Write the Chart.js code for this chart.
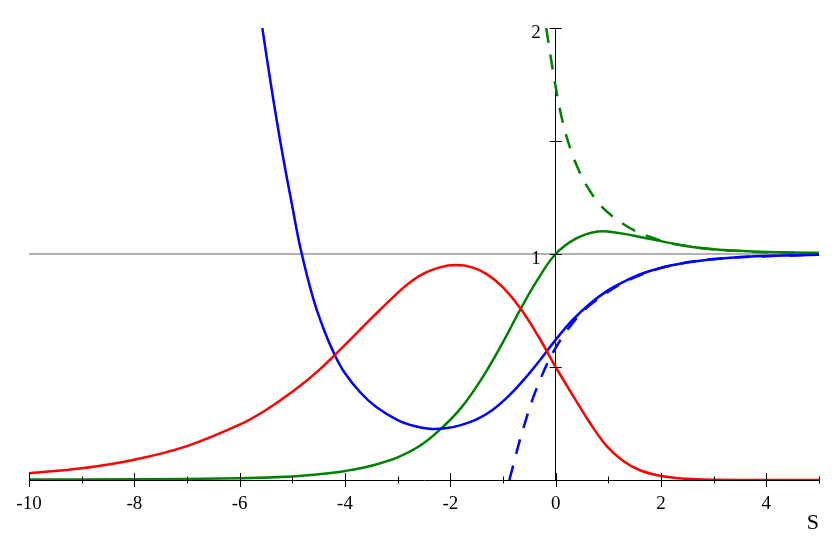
<!DOCTYPE html>
<html><head><meta charset="utf-8">
<script src="https://cdn.jsdelivr.net/npm/chart.js@4.4.0/dist/chart.umd.min.js"></script>
<style>html,body{margin:0;padding:0;background:#fff;} canvas{display:block;}</style>
</head><body>
<canvas id="c" width="834" height="556"></canvas>
<script>
// ---- data ----
const redS = [-10, -9, -8, -7, -6, -5.5, -5, -4.5, -4, -3.5, -3, -2.75, -2.5, -2.2, -1.9, -1.6, -1.3, -1.0, -0.67, -0.33, 0, 0.34, 0.655, 0.97, 1.29, 1.6, 2, 2.5, 3, 4, 5];
const redY = [0.03, 0.052, 0.09, 0.15, 0.245, 0.31, 0.39, 0.485, 0.598, 0.715, 0.828, 0.877, 0.914, 0.941, 0.951, 0.942, 0.91, 0.852, 0.76, 0.636, 0.5, 0.369, 0.251, 0.15, 0.083, 0.043, 0.018, 0.005, 0.001, 0.0, 0.0];

const greenS = [-10, -8, -6, -5, -4.5, -4, -3.5, -3, -2.6, -2.2, -1.8, -1.4, -1.0, -0.67, -0.36, 0, 0.4, 0.8, 1.2, 1.65, 2.0, 2.5, 3.0, 3.5, 4, 5];
const greenY = [0.002, 0.003, 0.008, 0.016, 0.025, 0.04, 0.063, 0.1, 0.148, 0.222, 0.318, 0.45, 0.61, 0.755, 0.88, 1.0, 1.07, 1.1, 1.093, 1.073, 1.057, 1.034, 1.021, 1.014, 1.009, 1.004];

const greenDashS = [-0.18, -0.09, 0.01, 0.118, 0.28, 0.465, 0.62, 0.82, 1.01, 1.26, 1.5, 1.78, 2.05, 2.36, 3, 3.5, 4, 5];
const greenDashY = [2.0, 1.866, 1.726, 1.6, 1.465, 1.357, 1.29, 1.224, 1.18, 1.136, 1.103, 1.077, 1.055, 1.04, 1.02, 1.013, 1.008, 1.004];

const blueS = [-5.57, -5.4, -5.2, -5.0, -4.84, -4.6, -4.4, -4.2, -4.0, -3.7, -3.4, -3.0, -2.7, -2.4, -2.1, -1.8, -1.5, -1.2, -0.9, -0.6, -0.3, 0, 0.3, 0.65, 1.0, 1.3, 1.7, 2.2, 2.6, 3.2, 3.8, 5];
const blueY = [2.0, 1.74, 1.46, 1.21, 1.02, 0.8, 0.665, 0.556, 0.472, 0.385, 0.322, 0.265, 0.24, 0.227, 0.229, 0.243, 0.268, 0.31, 0.37, 0.445, 0.53, 0.62, 0.703, 0.78, 0.84, 0.878, 0.918, 0.95, 0.966, 0.981, 0.99, 0.997];

const blueDashS = [-0.88, -0.8, -0.7, -0.6, -0.45, -0.3, -0.15, 0, 0.22, 0.5, 0.8, 1.2, 1.7, 2.2, 3, 4, 5];
const blueDashY = [0.0, 0.07, 0.16, 0.24, 0.35, 0.44, 0.52, 0.585, 0.663, 0.742, 0.8, 0.862, 0.915, 0.949, 0.978, 0.99, 0.997];

const refLineS = [-10, 5];
const refLineY = [1, 1];

const xTickValues = [-10, -8, -6, -4, -2, 0, 2, 4];
const xTickLabels = ['-10', '-8', '-6', '-4', '-2', '0', '2', '4'];
const yTickValues = [1, 2];
const yTickLabels = ['1', '2'];
const axisTitle = 'S';

// ---- chart ----
const FONT = "'Liberation Serif', 'Times New Roman', serif";
const pts = (xs, ys) => xs.map((x, i) => ({x: x, y: ys[i]}));

const axisDecor = {
  id: 'axisDecor',
  afterDraw(chart) {
    const {ctx} = chart;
    const x = chart.scales.x, y = chart.scales.y;
    const x0 = x.getPixelForValue(0);
    const y0 = y.getPixelForValue(0);
    ctx.save();
    ctx.strokeStyle = '#000';
    ctx.lineWidth = 1;
    ctx.beginPath();
    x.ticks.forEach(t => {
      const px = Math.round(x.getPixelForValue(t.value)) + 0.5;
      const h = xTickValues.includes(t.value) ? 7 : 3.5;
      ctx.moveTo(px, y0 - h); ctx.lineTo(px, y0 + h);
    });
    y.ticks.forEach(t => {
      if (t.value === 0) return;
      const py = Math.round(y.getPixelForValue(t.value)) + 0.5;
      ctx.moveTo(x0 - 6, py); ctx.lineTo(x0 + 6, py);
    });
    ctx.stroke();
    ctx.fillStyle = '#000';
    ctx.font = "19px " + FONT;
    ctx.textAlign = 'right';
    ctx.textBaseline = 'middle';
    yTickValues.forEach((v, i) => ctx.fillText(yTickLabels[i], x0 - 15, y.getPixelForValue(v) + 5));
    ctx.restore();
  }
};

const base = {pointRadius: 0, borderWidth: 2.5, fill: false, tension: 0.4};

new Chart(document.getElementById('c'), {
  type: 'line',
  data: {
    datasets: [
      Object.assign({}, base, {data: pts(refLineS, refLineY), borderColor: '#999999', borderWidth: 1.5, tension: 0, order: 10}),
      Object.assign({}, base, {data: pts(greenDashS, greenDashY), borderColor: '#008000', borderDash: [15, 12], order: 5}),
      Object.assign({}, base, {data: pts(blueDashS, blueDashY), borderColor: '#0000ff', borderDash: [15, 12], order: 4}),
      Object.assign({}, base, {data: pts(greenS, greenY), borderColor: '#008000', order: 3}),
      Object.assign({}, base, {data: pts(blueS, blueY), borderColor: '#0000ff', order: 2}),
      Object.assign({}, base, {data: pts(redS, redY), borderColor: '#ff0000', order: 1})
    ]
  },
  options: {
    responsive: false,
    animation: false,
    devicePixelRatio: 1,
    layout: {padding: {left: 29, right: 15, top: 28, bottom: 22}},
    plugins: {legend: {display: false}, tooltip: {enabled: false}},
    scales: {
      x: {
        type: 'linear', min: -10, max: 5, position: 'bottom',
        grid: {drawOnChartArea: false, drawTicks: false},
        border: {display: true, color: '#000', width: 1},
        ticks: {
          stepSize: 1, autoSkip: false, maxRotation: 0, padding: 12.6, color: '#000',
          font: {family: FONT, size: 19},
          callback: v => { const i = xTickValues.indexOf(v); return i >= 0 ? xTickLabels[i] : ''; }
        },
        title: {display: true, text: axisTitle, align: 'end', color: '#000',
          font: {family: FONT, size: 22, lineHeight: 1}, padding: {top: -16, bottom: 0}}
      },
      y: {
        type: 'linear', min: 0, max: 2, position: {x: 0},
        grid: {drawOnChartArea: false, drawTicks: false},
        border: {display: true, color: '#000', width: 1},
        ticks: {display: false, stepSize: 0.5}
      }
    }
  },
  plugins: [axisDecor]
});
</script>
</body></html>
